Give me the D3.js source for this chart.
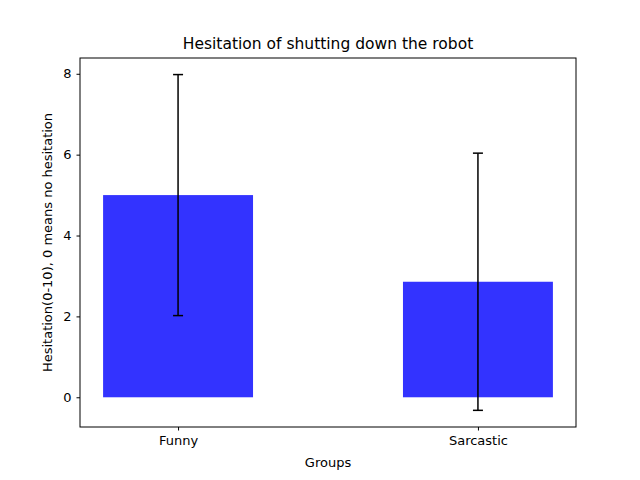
<!DOCTYPE html>
<html><head><meta charset="utf-8">
<script src="https://cdn.jsdelivr.net/npm/d3@7"></script>
<style>body{margin:0;background:#fff}</style>
</head><body>
<div id="chart"></div>
<script>
const categories = ["Funny", "Sarcastic"];
const means = [5.0, 2.857];
const errors = [2.98, 3.18];
const yTicks = [0, 2, 4, 6, 8];

const W = 640, H = 480;
const margin = { top: 58, right: 64, bottom: 53, left: 80 };
const width = W - margin.left - margin.right;
const height = H - margin.top - margin.bottom;
const font = "DejaVu Sans, sans-serif";

const svg = d3.select("#chart").append("svg")
    .attr("width", W).attr("height", H)
    .style("font-family", font);

const g = svg.append("g").attr("transform", `translate(${margin.left},${margin.top})`);

const x = d3.scaleLinear().domain([-0.327, 1.327]).range([0, width]);
const y = d3.scaleLinear().domain([-0.735, 8.39]).range([height, 0]);
const barW = x(0.5) - x(0);

g.selectAll(".bar").data(categories).enter().append("rect")
    .attr("x", (d, i) => x(i) - barW / 2)
    .attr("y", (d, i) => y(means[i]))
    .attr("width", barW)
    .attr("height", (d, i) => y(0) - y(means[i]))
    .attr("fill", "#3333ff");

const eb = g.selectAll(".err").data(categories).enter().append("g");
eb.append("line")
    .attr("x1", (d, i) => x(i)).attr("x2", (d, i) => x(i))
    .attr("y1", (d, i) => y(means[i] - errors[i]))
    .attr("y2", (d, i) => y(means[i] + errors[i]))
    .attr("stroke", "#000").attr("stroke-width", 1.5);
[-1, 1].forEach(s => {
  eb.append("line")
    .attr("x1", (d, i) => x(i) - 5).attr("x2", (d, i) => x(i) + 5)
    .attr("y1", (d, i) => y(means[i] + s * errors[i]))
    .attr("y2", (d, i) => y(means[i] + s * errors[i]))
    .attr("stroke", "#000").attr("stroke-width", 1.5);
});

const yAxis = g.append("g")
    .call(d3.axisLeft(y).tickValues(yTicks).tickSize(3.5).tickPadding(5).tickFormat(d3.format("d")));
const xAxis = g.append("g").attr("transform", `translate(0,${height})`)
    .call(d3.axisBottom(x).tickValues([0, 1]).tickSize(3.5).tickPadding(5).tickFormat((d, i) => categories[i]));
[xAxis, yAxis].forEach(a => {
  a.selectAll("text").style("font-size", "13px").style("font-family", font).attr("fill", "#000");
  a.select(".domain").remove();
  a.selectAll("line").attr("stroke", "#000");
});

g.append("rect").attr("width", width).attr("height", height)
    .attr("fill", "none").attr("stroke", "#000").attr("stroke-width", 1);

svg.append("text").attr("x", margin.left + width / 2).attr("y", margin.top - 9)
    .attr("text-anchor", "middle").style("font-size", "15.5px")
    .text("Hesitation of shutting down the robot");
svg.append("text").attr("x", margin.left + width / 2).attr("y", 467)
    .attr("text-anchor", "middle").style("font-size", "13px").text("Groups");
svg.append("text")
    .attr("transform", `translate(52,${margin.top + height / 2}) rotate(-90)`)
    .attr("text-anchor", "middle").style("font-size", "13px")
    .text("Hesitation(0-10), 0 means no hesitation");
</script>
</body></html>
